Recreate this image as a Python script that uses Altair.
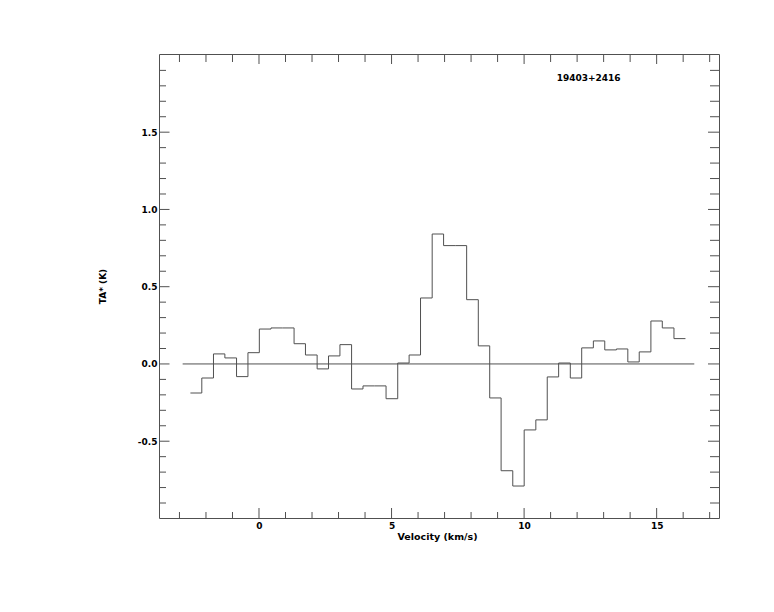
import altair as alt
import pandas as pd

# ---- data ----
velocity = [-2.37, -1.94, -1.50, -1.07, -0.63, -0.20, 0.23, 0.67, 1.10, 1.54,
            1.97, 2.41, 2.84, 3.27, 3.71, 4.14, 4.58, 5.01, 5.45, 5.88,
            6.31, 6.75, 7.18, 7.62, 8.05, 8.49, 8.92, 9.35, 9.79, 10.22,
            10.66, 11.09, 11.52, 11.96, 12.39, 12.83, 13.26, 13.70, 14.13, 14.56,
            15.00, 15.43, 15.87]
ta = [-0.188, -0.091, 0.065, 0.039, -0.082, 0.073, 0.226, 0.233, 0.233, 0.131,
      0.058, -0.032, 0.052, 0.125, -0.162, -0.142, -0.142, -0.225, 0.006, 0.058,
      0.427, 0.841, 0.766, 0.766, 0.416, 0.117, -0.220, -0.691, -0.790, -0.427,
      -0.362, -0.084, 0.006, -0.091, 0.104, 0.149, 0.091, 0.097, 0.013, 0.078,
      0.278, 0.233, 0.164]
baseline_v = [-2.88, 16.42]
baseline_t = [0.0]
source_label = ["19403+2416"]
label_pos_v = [11.23]
label_pos_t = [1.853]

x_major = [0, 5, 10, 15]
x_minor = [-3, -2, -1, 1, 2, 3, 4, 6, 7, 8, 9, 11, 12, 13, 14, 16, 17]
y_major = [-0.5, 0.0, 0.5, 1.0, 1.5]
y_minor = [-0.9, -0.8, -0.7, -0.6, -0.4, -0.3, -0.2, -0.1,
           0.1, 0.2, 0.3, 0.4, 0.6, 0.7, 0.8, 0.9,
           1.1, 1.2, 1.3, 1.4, 1.6, 1.7, 1.8, 1.9]

W, H = 560, 464
LINE = "#505050"
FONT = "DejaVu Sans"

# histogram-style steps: bin edges around each channel centre
dv = (velocity[-1] - velocity[0]) / (len(velocity) - 1)
edges = [v - dv / 2 for v in velocity] + [velocity[-1] + dv / 2]
spec_df = pd.DataFrame({"v": edges, "t": ta + [ta[-1]]})

xs = alt.Scale(domain=[-3.772, 17.352], nice=False, zero=False)
ys = alt.Scale(domain=[-0.997, 2.006], nice=False, zero=False)

x_axis = alt.Axis(values=x_major, format="d", ticks=False, tickSize=0, domain=False, grid=False,
                  labelFont=FONT, labelFontWeight="bold", labelFontSize=9, labelColor="black",
                  labelPadding=3, title="Velocity (km/s)", titleFont=FONT, titleFontWeight="bold",
                  titleFontSize=9.5, titleColor="black", titleX=278, titleY=13, titleBaseline="top")
y_axis = alt.Axis(values=y_major, ticks=False, tickSize=0, domain=False, grid=False,
                  labelExpr="(datum.value < 0 ? '-' : '') + format(abs(datum.value), '.1f')",
                  labelFont=FONT, labelFontWeight="bold", labelFontSize=9, labelColor="black",
                  labelPadding=2, title="TA* (K)", titleFont=FONT, titleFontWeight="bold",
                  titleFontSize=9, titleColor="black", titleX=-57, titleY=232,
                  titleBaseline="middle", titleAlign="center")

def X(field):
    return alt.X(field, scale=xs, axis=x_axis, title="Velocity (km/s)")

def Y(field):
    return alt.Y(field, scale=ys, axis=y_axis, title="TA* (K)")

spectrum = alt.Chart(spec_df).mark_line(interpolate="step-after", color=LINE, strokeWidth=1).encode(
    x=X("v:Q"), y=Y("t:Q"))

zero = alt.Chart(pd.DataFrame({"v": [baseline_v[0]], "v2": [baseline_v[1]], "t": baseline_t})).mark_rule(
    color=LINE, strokeWidth=1).encode(x=X("v:Q"), x2="v2:Q", y=Y("t:Q"))

def xticks(vals, y0, y1):
    return alt.Chart(pd.DataFrame({"v": vals})).mark_rule(color=LINE, strokeWidth=1).encode(
        x=X("v:Q"), y=alt.value(y0), y2=alt.value(y1))

def yticks(vals, x0, x1):
    return alt.Chart(pd.DataFrame({"t": vals})).mark_rule(color=LINE, strokeWidth=1).encode(
        y=Y("t:Q"), x=alt.value(x0), x2=alt.value(x1))

ticks = [
    xticks(x_major, H, H - 10), xticks(x_minor, H, H - 6),
    xticks(x_major, 0, 10), xticks(x_minor, 0, 8),
    yticks(y_major, 0, 10.5), yticks(y_minor, 0, 7),
    yticks(y_major, W, W - 11), yticks(y_minor, W, W - 9),
]

label = alt.Chart(pd.DataFrame({"v": label_pos_v, "t": label_pos_t, "s": source_label})).mark_text(
    align="left", baseline="middle", font=FONT, fontWeight="bold", fontSize=9, color="black").encode(
    x=X("v:Q"), y=Y("t:Q"), text="s:N")

chart = alt.layer(spectrum, zero, label, *ticks).properties(
    width=W, height=H,
    padding={"left": 151, "top": 46, "right": 47, "bottom": 86},
    autosize=alt.AutoSizeParams(type="none"),
    background="white",
).configure_view(stroke=LINE, strokeWidth=1)

chart.save("out.html", embed_options={"renderer": "svg", "actions": False})
